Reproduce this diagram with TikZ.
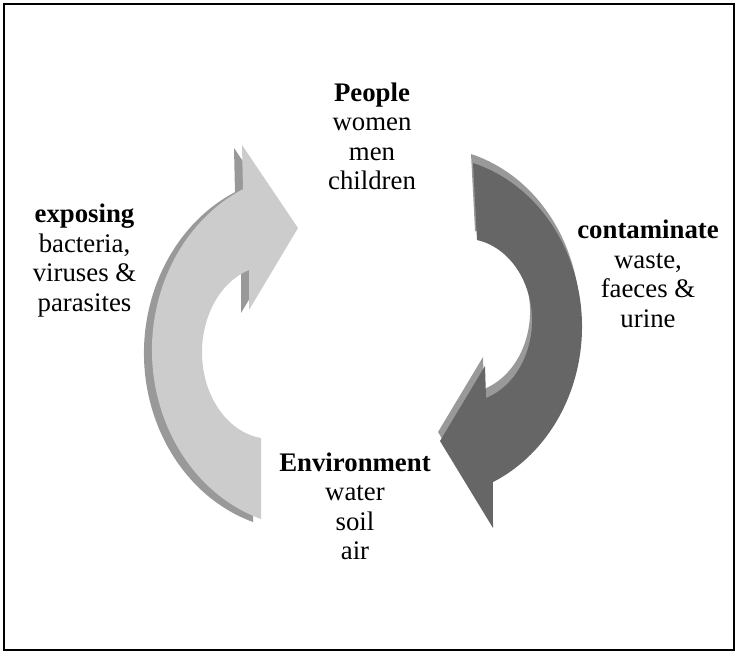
\documentclass[tikz,border=0pt]{standalone}
\usepackage{fontspec}
\setmainfont{Liberation Serif}
\definecolor{lightarrow}{HTML}{CCCCCC}
\definecolor{darkarrow}{HTML}{666666}
\definecolor{arrowside}{HTML}{999999}
\tikzset{
  cycletext/.style={anchor=north, inner sep=0pt, align=center,
    font=\fontsize{26.8}{29.5}\selectfont},
}
\begin{document}
\begin{tikzpicture}[x=1pt, y=-1pt]
        \useasboundingbox (0,0) rectangle (738,654);
        % Frame
        \draw[line width=2pt] (4,4) rectangle (734,650);

        % Left arrow: Environment -> People (with its side face)
        \foreach \dx/\dy/\col in {-8/3/arrowside, 0/0/lightarrow} {
            \fill[\col, shift={(\dx,\dy)}] (261,519)
                arc[start angle=108.06, end angle=244.91, x radius=158, y radius=177.7]
                -- (242,145) -- (298,228) -- (249,310) -- (249,270)
                arc[start angle=252.0, end angle=97.6, x radius=68, y radius=86.5]
                -- cycle;
        }

        % Right arrow: People -> Environment (with its side face)
        \foreach \dx/\dy/\col in {-2/-9/arrowside, 0/0/darkarrow} {
            \fill[\col, shift={(\dx,\dy)}] (473,163)
                arc[start angle=-73.56, end angle=65.54, x radius=152, y radius=170.7]
                -- (493,528) -- (440,441) -- (485,366) -- (486,398)
                arc[start angle=71.76, end angle=-79.69, x radius=67, y radius=81.7]
                -- cycle;
        }

        % Labels
        \node[cycletext] (people) at (372,82.5) {\textbf{People}\\women\\men\\children};
        \node[cycletext] (exposing) at (84.5,204) {\textbf{exposing}\\bacteria,\\viruses \&\\parasites};
        \node[cycletext] (contaminate) at (648,220) {\textbf{contaminate}\\waste,\\faeces \&\\urine};
        \node[cycletext] (environment) at (355,452.5) {\textbf{Environment}\\water\\soil\\air};
    \end{tikzpicture}
\end{document}
